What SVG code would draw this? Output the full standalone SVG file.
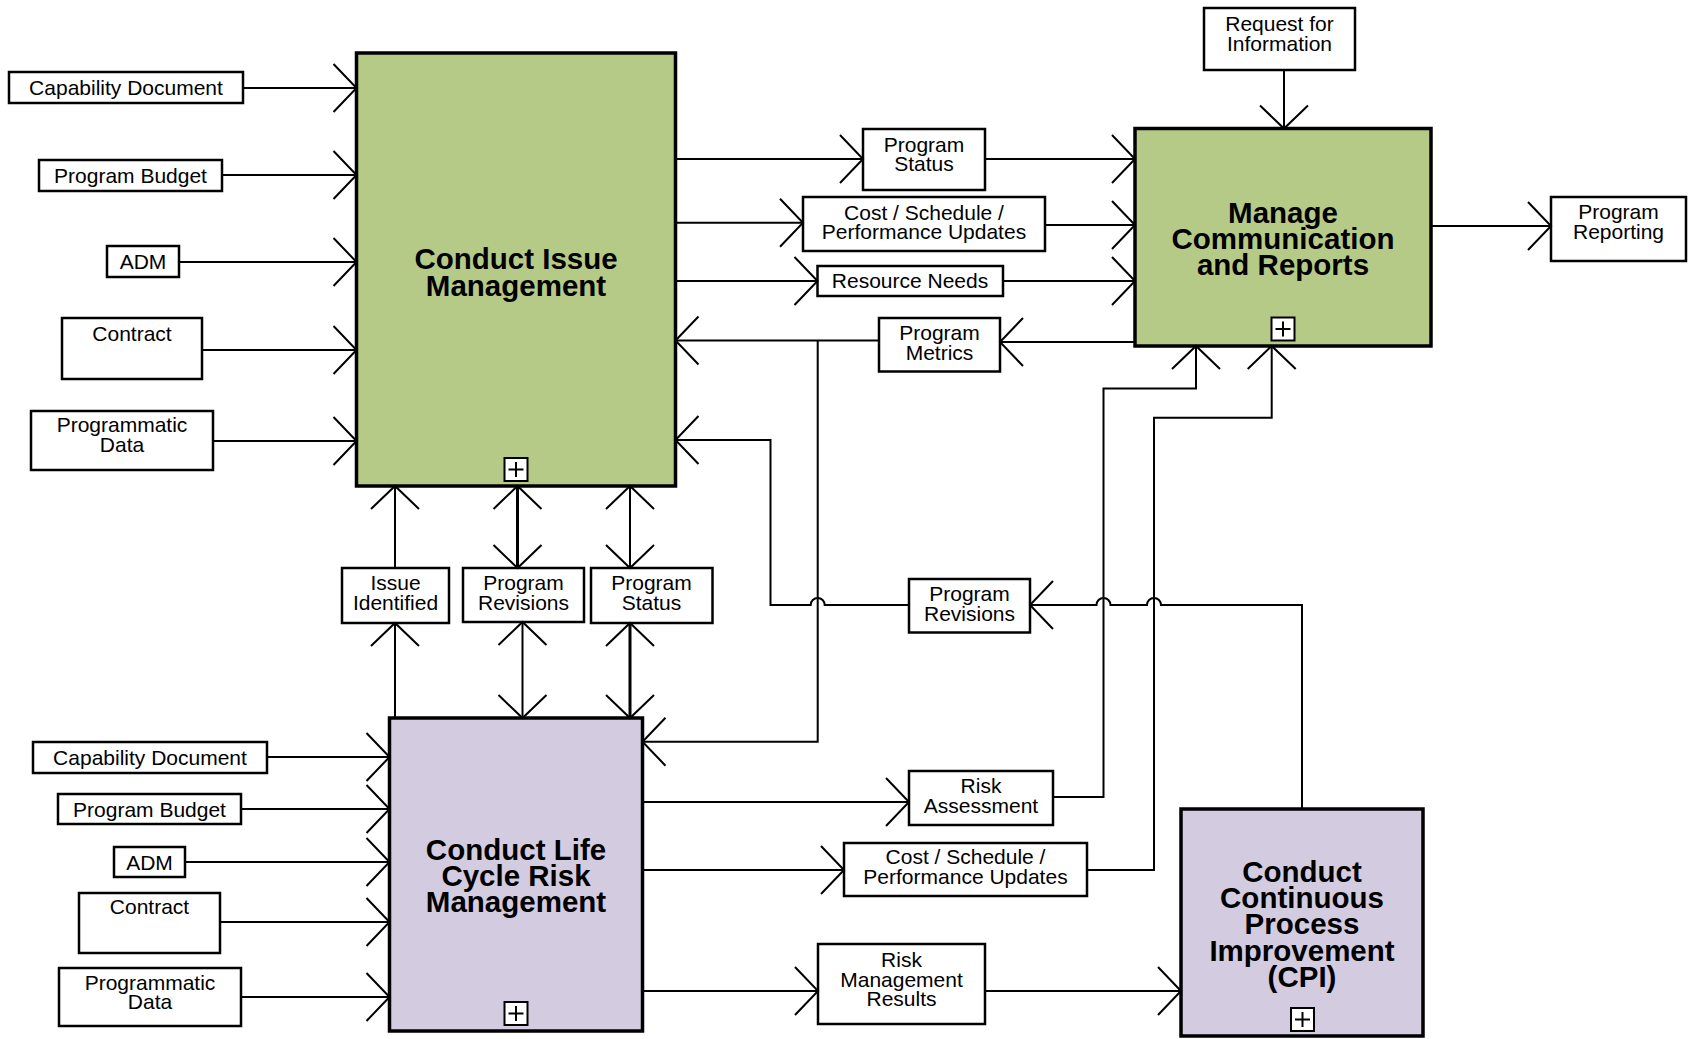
<svg xmlns="http://www.w3.org/2000/svg" width="1688" height="1039" viewBox="0 0 1688 1039">
<style>
.lb{fill:#fff;stroke:#000;stroke-width:2.5}
.pg{fill:#b6ca88;stroke:#000;stroke-width:3.5}
.pp{fill:#d3cbe0;stroke:#000;stroke-width:3.5}
.t{font-family:"Liberation Sans",Arial,sans-serif;font-size:21px;text-anchor:middle;fill:#000}
.h{font-family:"Liberation Sans",Arial,sans-serif;font-size:29.5px;font-weight:bold;text-anchor:middle;fill:#000}
.pl{fill:#fff;stroke:#000;stroke-width:2}
.c path{fill:none;stroke:#000;stroke-width:2;marker-end:url(#ah)}
.c path.b{marker-start:url(#ahs)}
.c path.w{stroke-width:3}
</style>
<defs>
<marker id="ah" markerUnits="userSpaceOnUse" markerWidth="30" markerHeight="54" orient="auto" overflow="visible" refX="0" refY="0">
<path d="M-23,-24 L0,0 L-23,24" fill="none" stroke="#000" stroke-width="2"/>
</marker>
<marker id="ahs" markerUnits="userSpaceOnUse" markerWidth="30" markerHeight="54" orient="auto-start-reverse" overflow="visible" refX="0" refY="0">
<path d="M-23,-24 L0,0 L-23,24" fill="none" stroke="#000" stroke-width="2"/>
</marker>
<g id="plus">
<rect class="pl" x="0" y="0" width="23" height="23"/>
<path d="M11.5,4 V19 M4,11.5 H19" stroke="#000" stroke-width="2"/>
</g>
</defs>
<rect width="1688" height="1039" fill="#fff"/>

<g id="node-cim">
<rect class="pg" x="356.5" y="53" width="319" height="433"/>
<text class="h" x="516" y="269">Conduct Issue<tspan x="516" dy="27">Management</tspan></text>
<use href="#plus" x="504.5" y="458"/>
</g>
<g id="node-manage">
<rect class="pg" x="1135" y="128.5" width="296" height="217.5"/>
<text class="h" x="1283" y="223">Manage<tspan x="1283" dy="26">Communication</tspan><tspan x="1283" dy="26">and Reports</tspan></text>
<use href="#plus" x="1271.5" y="317.5"/>
</g>
<g id="node-lcrm">
<rect class="pp" x="389.5" y="718" width="253" height="313"/>
<text class="h" x="516" y="860">Conduct Life<tspan x="516" dy="26">Cycle Risk</tspan><tspan x="516" dy="26">Management</tspan></text>
<use href="#plus" x="504.5" y="1002"/>
</g>
<g id="node-cpi">
<rect class="pp" x="1181" y="809" width="242" height="227"/>
<text class="h" x="1302" y="882">Conduct<tspan x="1302" dy="26.2">Continuous</tspan><tspan x="1302" dy="26.2">Process</tspan><tspan x="1302" dy="26.2">Improvement</tspan><tspan x="1302" dy="26.2">(CPI)</tspan></text>
<use href="#plus" x="1291" y="1008"/>
</g>

<g id="lbl-cap1"><rect class="lb" x="9" y="72" width="234" height="31"/><text class="t" x="126" y="95">Capability Document</text></g>
<g id="lbl-budget1"><rect class="lb" x="39" y="160" width="183" height="31"/><text class="t" x="130.5" y="183">Program Budget</text></g>
<g id="lbl-adm1"><rect class="lb" x="107" y="246" width="72" height="31"/><text class="t" x="143" y="269">ADM</text></g>
<g id="lbl-contract1"><rect class="lb" x="62" y="318" width="140" height="61"/><text class="t" x="132" y="341">Contract</text></g>
<g id="lbl-progdata1"><rect class="lb" x="31" y="411" width="182" height="59"/><text class="t" x="122" y="432">Programmatic<tspan x="122" dy="20">Data</tspan></text></g>

<g id="lbl-cap2"><rect class="lb" x="33" y="742" width="234" height="31"/><text class="t" x="150" y="765">Capability Document</text></g>
<g id="lbl-budget2"><rect class="lb" x="58" y="794" width="183" height="30"/><text class="t" x="149.5" y="816.5">Program Budget</text></g>
<g id="lbl-adm2"><rect class="lb" x="114" y="847" width="71" height="30"/><text class="t" x="149.5" y="869.5">ADM</text></g>
<g id="lbl-contract2"><rect class="lb" x="79" y="893" width="141" height="60"/><text class="t" x="149.5" y="914">Contract</text></g>
<g id="lbl-progdata2"><rect class="lb" x="59" y="968" width="182" height="58"/><text class="t" x="150" y="990">Programmatic<tspan x="150" dy="19">Data</tspan></text></g>

<g id="lbl-issue"><rect class="lb" x="342" y="568" width="107" height="55"/><text class="t" x="395.5" y="589.5">Issue<tspan x="395.5" dy="20">Identified</tspan></text></g>
<g id="lbl-revisions1"><rect class="lb" x="463" y="568" width="121" height="54"/><text class="t" x="523.5" y="589.5">Program<tspan x="523.5" dy="20">Revisions</tspan></text></g>
<g id="lbl-status1"><rect class="lb" x="591" y="568" width="121.5" height="55"/><text class="t" x="651.5" y="589.5">Program<tspan x="651.5" dy="20">Status</tspan></text></g>

<g id="lbl-status2"><rect class="lb" x="863" y="129" width="122" height="61"/><text class="t" x="924" y="151.5">Program<tspan x="924" dy="19.5">Status</tspan></text></g>
<g id="lbl-cost1"><rect class="lb" x="803" y="197" width="242" height="54"/><text class="t" x="924" y="220">Cost / Schedule /<tspan x="924" dy="19">Performance Updates</tspan></text></g>
<g id="lbl-resource"><rect class="lb" x="817.5" y="266" width="185.5" height="30"/><text class="t" x="910" y="288">Resource Needs</text></g>
<g id="lbl-metrics"><rect class="lb" x="879" y="318" width="121" height="53.5"/><text class="t" x="939.5" y="340">Program<tspan x="939.5" dy="19.5">Metrics</tspan></text></g>
<g id="lbl-rfi"><rect class="lb" x="1204" y="8" width="151" height="62"/><text class="t" x="1279.5" y="31">Request for<tspan x="1279.5" dy="19.5">Information</tspan></text></g>
<g id="lbl-reporting"><rect class="lb" x="1551" y="197" width="135" height="64"/><text class="t" x="1618.5" y="219">Program<tspan x="1618.5" dy="20">Reporting</tspan></text></g>
<g id="lbl-revisions2"><rect class="lb" x="909" y="579" width="121" height="53.5"/><text class="t" x="969.5" y="601">Program<tspan x="969.5" dy="19.5">Revisions</tspan></text></g>
<g id="lbl-riskassess"><rect class="lb" x="909" y="771" width="144" height="54"/><text class="t" x="981" y="793">Risk<tspan x="981" dy="20">Assessment</tspan></text></g>
<g id="lbl-cost2"><rect class="lb" x="844" y="843" width="243" height="53"/><text class="t" x="965.5" y="864">Cost / Schedule /<tspan x="965.5" dy="20">Performance Updates</tspan></text></g>
<g id="lbl-riskresults"><rect class="lb" x="818" y="944" width="167" height="80"/><text class="t" x="901.5" y="967">Risk<tspan x="901.5" dy="19.5">Management</tspan><tspan x="901.5" dy="19.5">Results</tspan></text></g>

<g id="connectors" class="c">
<path d="M243,88 H356.5"/>
<path d="M222,175 H356.5"/>
<path d="M179,262 H356.5"/>
<path d="M202,350 H356.5"/>
<path d="M213,441 H356.5"/>
<path d="M267,757 H389.5"/>
<path d="M241,809 H389.5"/>
<path d="M185,862 H389.5"/>
<path d="M220,922 H389.5"/>
<path d="M241,997 H389.5"/>

<path d="M675.5,159 H863"/>
<path d="M985,159 H1135"/>
<path d="M675.5,222.7 H803"/>
<path d="M1045,225 H1135"/>
<path d="M675.5,281 H817.5"/>
<path d="M1003,281 H1135"/>
<path d="M1135,342 H1000"/>
<path d="M879,340.5 H675.5"/>
<path d="M817.7,340.5 V741.7 H642.5"/>
<path d="M1431,226 H1551"/>
<path d="M1284,70 V128.5"/>

<path d="M395,718 V623"/>
<path d="M395,568 V486"/>
<path class="b w" d="M517.5,568 V486"/>
<path class="b" d="M522.5,622 V718"/>
<path class="b" d="M630,568 V486"/>
<path class="b w" d="M630,623 V718"/>

<path d="M642.5,802 H909"/>
<path d="M1053,797 H1103.5 V388.5 H1196 V346"/>
<path d="M642.5,870 H844"/>
<path d="M1087,870 H1154 V417.7 H1271.7 V346"/>
<path d="M642.5,991 H818"/>
<path d="M985,991 H1181"/>

<path d="M1302,809 V605 H1161 A7,7 0 0 0 1147,605 H1110.5 A7,7 0 0 0 1096.5,605 H1030"/>
<path d="M909,605 H824.7 A7,7 0 0 0 810.7,605 H770.5 V440 H675.5"/>
</g>
</svg>
